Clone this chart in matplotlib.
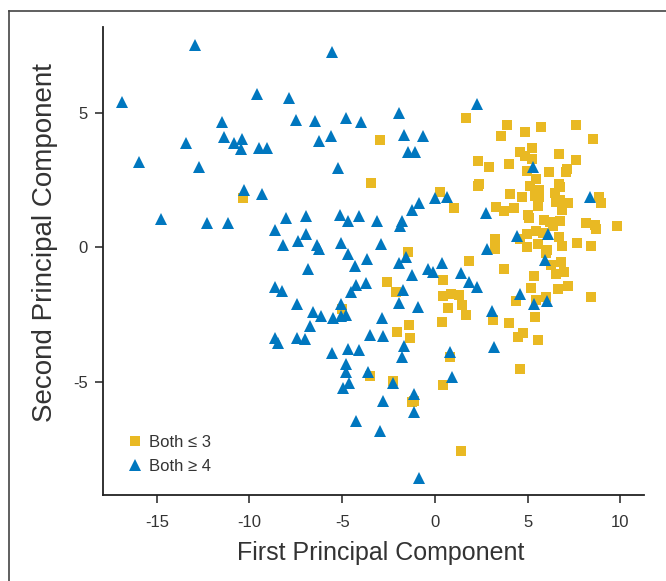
import matplotlib
matplotlib.use("Agg")
import matplotlib.pyplot as plt
from matplotlib import font_manager
from matplotlib.lines import Line2D

# pick a narrow font if available
names = {f.name for f in font_manager.fontManager.ttflist}
narrow = "Liberation Sans Narrow" if "Liberation Sans Narrow" in names else (
    "DejaVu Sans Condensed" if "DejaVu Sans Condensed" in names else "Liberation Sans")
plt.rcParams['font.family'] = [narrow, 'DejaVu Sans']

# Data: Both >= 4 (triangles)
tri_x = [-12.95, -16.85, -9.59, -11.46, -13.44, -11.39, -10.43, -10.83, -10.47, -9.51,
         -9.08, -15.94, -12.75, -10.31, -5.54, -7.88, -7.50, -6.44, -4.80, -3.99,
         -1.94, -6.24, -5.63, -1.66, -0.66, -1.47, -1.06, -5.22, 2.25, 5.27,
         0.63, 8.36, 2.75, 4.44, 6.11, 2.82, 0.39, 5.95, 1.42, 1.82,
         2.27, 4.60, 5.36, 6.03, 3.09, 0.00, -0.86, -1.24, -8.04, -6.95,
         -5.13, -4.68, -4.09, -3.11, -1.80, -1.89, -8.65, -6.95, -7.41, -8.17,
         -6.35, -6.26, -5.07, -2.91, -4.71, -3.65, -4.32, -1.93, -1.55, -6.87,
         -1.23, -0.38, -0.09, -8.65, -8.27, -4.23, -3.74, -4.53, -1.71, -7.46,
         -6.57, -6.15, -5.52, -5.09, -5.04, -4.77, -1.93, -0.90, -2.86, -6.75,
         -8.65, -8.46, -7.46, -7.00, -3.52, -2.79, -1.64, -1.80, -5.54, -4.66,
         -4.09, -4.77, -4.77, -3.63, -4.62, -4.95, -2.28, -1.10, -2.79, -1.12,
         -4.28, -2.97, -0.85, 0.83, 3.20, 0.92, -14.79, -12.29, -11.15, -9.30]
tri_y = [7.54, 5.43, 5.72, 4.66, 3.90, 4.11, 4.05, 3.88, 3.66, 3.71,
         3.71, 3.19, 3.01, 2.14, 7.26, 5.58, 4.75, 4.69, 4.80, 4.66,
         5.00, 3.98, 4.14, 4.18, 4.15, 3.57, 3.56, 2.97, 5.35, 2.99,
         1.86, 1.89, 1.27, 0.44, 0.49, -0.07, -0.59, -0.48, -0.96, -1.30,
         -1.46, -1.73, -2.12, -1.99, -2.38, 1.83, 1.67, 1.40, 1.09, 1.15,
         1.21, 1.00, 1.15, 0.99, 0.99, 0.80, 0.63, 0.50, 0.25, 0.07,
         0.08, -0.06, 0.16, 0.13, -0.25, -0.45, -0.68, -0.57, -0.34, -0.81,
         -1.04, -0.81, -0.90, -1.46, -1.63, -1.41, -1.31, -1.68, -1.59, -2.11,
         -2.39, -2.54, -2.62, -2.11, -2.55, -2.51, -2.08, -2.21, -2.62, -2.92,
         -3.36, -3.57, -3.38, -3.42, -3.26, -3.30, -3.66, -4.07, -3.92, -3.77,
         -3.84, -4.34, -4.63, -4.63, -5.04, -5.25, -5.04, -5.46, -5.72, -6.12,
         -6.45, -6.83, -8.60, -3.90, -3.72, -4.84, 1.06, 0.90, 0.90, 1.98]

# Data: Both <= 3 (squares)
sq_x = [-2.95, -3.44, 0.29, 1.69, 3.90, 5.74, 7.63, 3.58, 4.87, 8.54,
        4.60, 5.25, 4.87, 5.25, 6.71, 7.63, 2.34, 2.93, 4.01, 4.98,
        6.17, 7.14, 7.09, 5.47, 2.39, 2.34, 5.14, 5.63, 6.71, 6.76,
        6.49, 4.06, 4.71, 5.41, 5.63, 6.76, 6.55, 7.19, 8.87, 8.97,
        1.04, 3.31, 3.72, 4.28, 5.57, 6.87, 5.04, 5.09, 5.90, 6.22,
        6.76, 6.38, 8.17, 8.65, 8.70, 9.84, 3.25, 3.25, 4.60, 4.98,
        5.47, 5.84, 6.71, 4.98, 5.57, 6.06, 6.01, 6.87, 7.68, 8.43,
        1.85, 3.74, 6.28, 6.82, 6.55, 6.98, 5.36, 0.45, 5.20, 6.65,
        7.19, 0.88, 1.31, 0.45, 4.39, 5.47, 6.01, 8.43, 0.72, 1.47,
        1.69, 3.15, 4.01, 5.41, 0.39, 4.77, 4.50, 5.57, 0.83, 4.60,
        0.45, 1.42, -10.35, -1.44, -2.57, -2.12, -5.00, -1.39, -2.03, -1.33,
        -3.49, -2.25, -1.26, -1.13]
sq_y = [3.99, 2.39, 2.06, 4.81, 4.55, 4.48, 4.55, 4.14, 4.29, 4.03,
        3.55, 3.70, 3.40, 3.29, 3.47, 3.25, 3.21, 2.99, 3.10, 2.84,
        2.80, 2.91, 2.80, 2.54, 2.35, 2.28, 2.28, 2.13, 2.35, 2.24,
        2.02, 1.98, 1.87, 1.91, 1.87, 1.76, 1.68, 1.65, 1.87, 1.65,
        1.46, 1.52, 1.36, 1.46, 1.55, 1.40, 1.20, 1.09, 1.01, 0.94,
        0.98, 0.79, 0.90, 0.83, 0.68, 0.79, 0.31, -0.07, 0.31, 0.49,
        0.60, 0.53, 0.38, 0.01, 0.12, -0.10, -0.22, 0.04, 0.16, 0.04,
        -0.51, -0.81, -0.66, -0.55, -1.00, -0.92, -1.07, -1.22, -1.52, -1.56,
        -1.45, -1.74, -1.78, -1.82, -2.00, -1.97, -1.86, -1.86, -2.27, -2.15,
        -2.53, -2.71, -2.82, -2.60, -2.79, -3.20, -3.35, -3.46, -4.09, -4.54,
        -5.13, -7.59, 1.83, -0.18, -1.30, -1.67, -2.30, -2.90, -3.16, -3.38,
        -4.80, -4.99, -5.75, -5.73]

blue = '#0077BF'
yellow = '#E9B923'
dark = '#333333'

fig = plt.figure(figsize=(6.66, 5.81), dpi=100)
ax = fig.add_axes([0.1547, 0.1472, 0.812, 0.806])

ax.plot(sq_x, sq_y, 's', color=yellow, markersize=6.5, markeredgewidth=0, zorder=3)
ax.plot(tri_x, tri_y, '^', color=blue, markersize=8, markeredgewidth=0, zorder=3)

ax.set_xlim(-17.9, 11.27)
ax.set_ylim(-9.24, 8.2)
ax.set_xticks([-15, -10, -5, 0, 5, 10])
ax.set_yticks([-5, 0, 5])
ax.set_xticklabels(['-15', '-10', '-5', '0', '5', '10'])
ax.set_yticklabels(['-5', '0', '5'])

for s in ['top', 'right']:
    ax.spines[s].set_visible(False)
for s in ['left', 'bottom']:
    ax.spines[s].set_color('#222222')
    ax.spines[s].set_linewidth(1.3)
ax.tick_params(axis='both', direction='out', length=6, width=1.1, color='#222222',
               labelsize=12, labelcolor=dark)
ax.tick_params(axis='x', pad=8)
ax.tick_params(axis='y', pad=5)

ax.set_xlabel('First Principal Component', fontsize=18, color=dark,
              va='center', ha='center')
ax.xaxis.set_label_coords(0.514, -0.123)
ax.set_ylabel('Second Principal Component', fontsize=20, color=dark,
              va='center', ha='center')
ax.yaxis.set_label_coords(-0.107, 0.541)

handles = [Line2D([], [], marker='s', ls='', color=yellow, markersize=6.5, markeredgewidth=0),
           Line2D([], [], marker='^', ls='', color=blue, markersize=8, markeredgewidth=0)]
leg = ax.legend(handles, ['Both ≤ 3', 'Both ≥ 4'], loc='upper left',
                bbox_to_anchor=(0.019, 0.162), frameon=False, fontsize=12,
                handlelength=0.8, handletextpad=0.45, labelspacing=0.55)
for t in leg.get_texts():
    t.set_color(dark)

# outer frame (top and left edges visible)
fig.add_artist(Line2D([9 / 666, 1.0], [1 - 11 / 581, 1 - 11 / 581], color='#444444', lw=1.2))
fig.add_artist(Line2D([9 / 666, 9 / 666], [0.0, 1 - 11 / 581], color='#444444', lw=1.2))

fig.savefig('out.png', dpi=100)
